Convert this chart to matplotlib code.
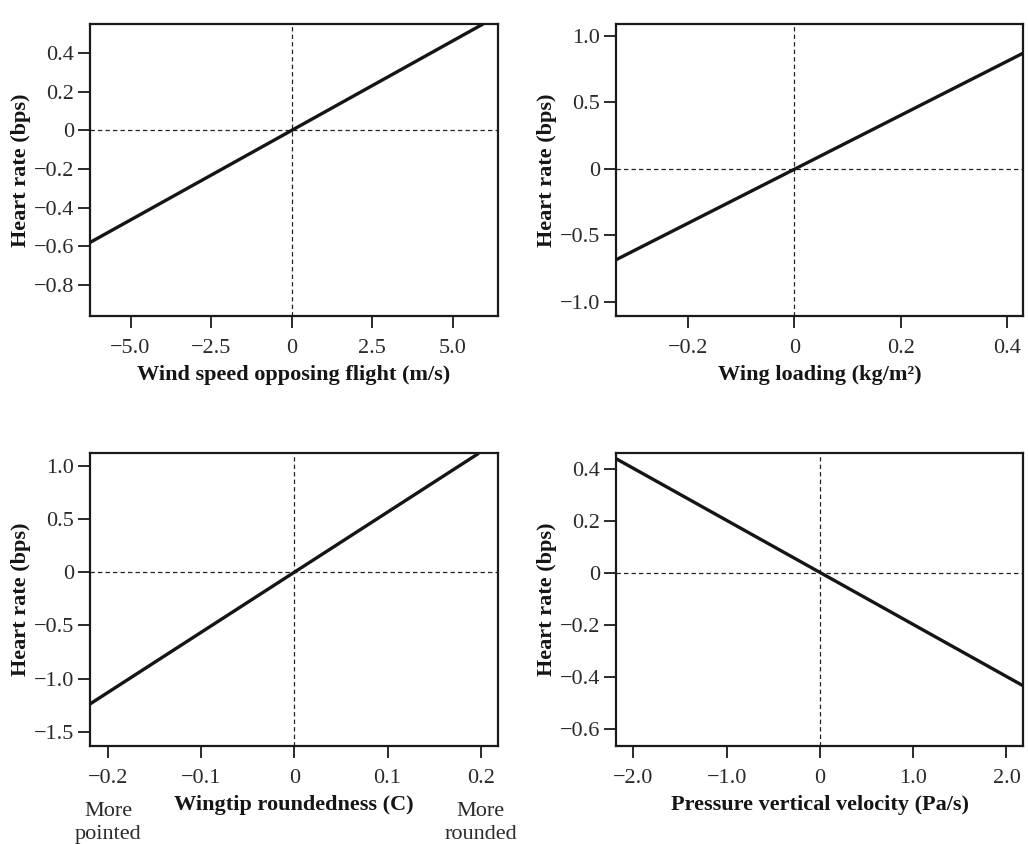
import numpy as np
import matplotlib
matplotlib.use("Agg")
import matplotlib.pyplot as plt
import matplotlib.transforms as mtransforms

plt.rcParams['font.family'] = ['Liberation Serif', 'DejaVu Serif']
plt.rcParams['font.size'] = 16

# fitted lines (x at both ends, y at both ends)
wind_x = [-6.26, 5.95]
wind_y = [-0.58, 0.55]
wing_x = [-0.335, 0.43]
wing_y = [-0.685, 0.871]
tip_x = [-0.22, 0.198]
tip_y = [-1.24, 1.12]
press_x = [-2.19, 2.18]
press_y = [0.44, -0.433]

M = '\u2212'
panels = [
    dict(x=wind_x, y=wind_y, xlim=(-6.26, 6.41), ylim=(-0.96, 0.55),
         xt=[-5, -2.5, 0, 2.5, 5], xl=[M + '5.0', M + '2.5', '0', '2.5', '5.0'],
         yt=[-0.8, -0.6, -0.4, -0.2, 0, 0.2, 0.4],
         yl=[M + '0.8', M + '0.6', M + '0.4', M + '0.2', '0', '0.2', '0.4'],
         label='Wind speed opposing flight (m/s)',
         pos=[0.0875, 0.6256, 0.3969, 0.346]),
    dict(x=wing_x, y=wing_y, xlim=(-0.335, 0.43), ylim=(-1.107, 1.09),
         xt=[-0.2, 0, 0.2, 0.4], xl=[M + '0.2', '0', '0.2', '0.4'],
         yt=[-1, -0.5, 0, 0.5, 1], yl=[M + '1.0', M + '0.5', '0', '0.5', '1.0'],
         label='Wing loading (kg/m\u00b2)',
         pos=[0.599, 0.6256, 0.3964, 0.346]),
    dict(x=tip_x, y=tip_y, xlim=(-0.2198, 0.219), ylim=(-1.634, 1.12),
         xt=[-0.2, -0.1, 0, 0.1, 0.2], xl=[M + '0.2', M + '0.1', '0', '0.1', '0.2'],
         yt=[-1.5, -1, -0.5, 0, 0.5, 1],
         yl=[M + '1.5', M + '1.0', M + '0.5', '0', '0.5', '1.0'],
         label='Wingtip roundedness (C)',
         pos=[0.0875, 0.1161, 0.3972, 0.3468]),
    dict(x=press_x, y=press_y, xlim=(-2.19, 2.18), ylim=(-0.664, 0.46),
         xt=[-2, -1, 0, 1, 2], xl=[M + '2.0', M + '1.0', '0', '1.0', '2.0'],
         yt=[-0.6, -0.4, -0.2, 0, 0.2, 0.4],
         yl=[M + '0.6', M + '0.4', M + '0.2', '0', '0.2', '0.4'],
         label='Pressure vertical velocity (Pa/s)',
         pos=[0.599, 0.1161, 0.3964, 0.3468]),
]

# end labels under the wingtip panel
tip_ends = [(-0.2, 'More\npointed'), (0.2, 'More\nrounded')]

fig = plt.figure(figsize=(10.28, 8.44), dpi=100)

for i, p in enumerate(panels):
    ax = fig.add_axes(p['pos'])
    ax.plot(p['x'], p['y'], color='#151515', lw=2.4, solid_capstyle='butt', zorder=3)
    ax.axhline(0, color='#222222', lw=0.9, ls=(0, (3.5, 2.5)), zorder=2)
    ax.axvline(0, color='#222222', lw=0.9, ls=(0, (3.5, 2.5)), zorder=2)
    ax.set_xlim(*p['xlim'])
    ax.set_ylim(*p['ylim'])
    ax.set_xticks(p['xt'])
    ax.set_xticklabels(p['xl'])
    ax.set_yticks(p['yt'])
    ax.set_yticklabels(p['yl'])
    for s in ax.spines.values():
        s.set_linewidth(1.6)
        s.set_color('#1a1a1a')
    ax.tick_params(direction='out', length=8.5, width=1.3, color='#1a1a1a',
                   labelcolor='#2a2a2a')
    ax.tick_params(axis='x', pad=8)
    ax.tick_params(axis='y', pad=3)
    ax.set_xlabel(p['label'], fontweight='bold', labelpad=5, color='#151515')
    ax.set_ylabel('Heart rate (bps)', fontweight='bold', labelpad=2, color='#151515')

    if i == 2:
        trans = mtransforms.blended_transform_factory(ax.transData, ax.transAxes)
        for xv, txt in tip_ends:
            ax.annotate(txt, xy=(xv, 0), xycoords=trans, xytext=(0, -40),
                        textcoords='offset points', ha='center', va='top',
                        color='#2a2a2a', linespacing=1.3, annotation_clip=False)

fig.savefig('out.png', dpi=100)
